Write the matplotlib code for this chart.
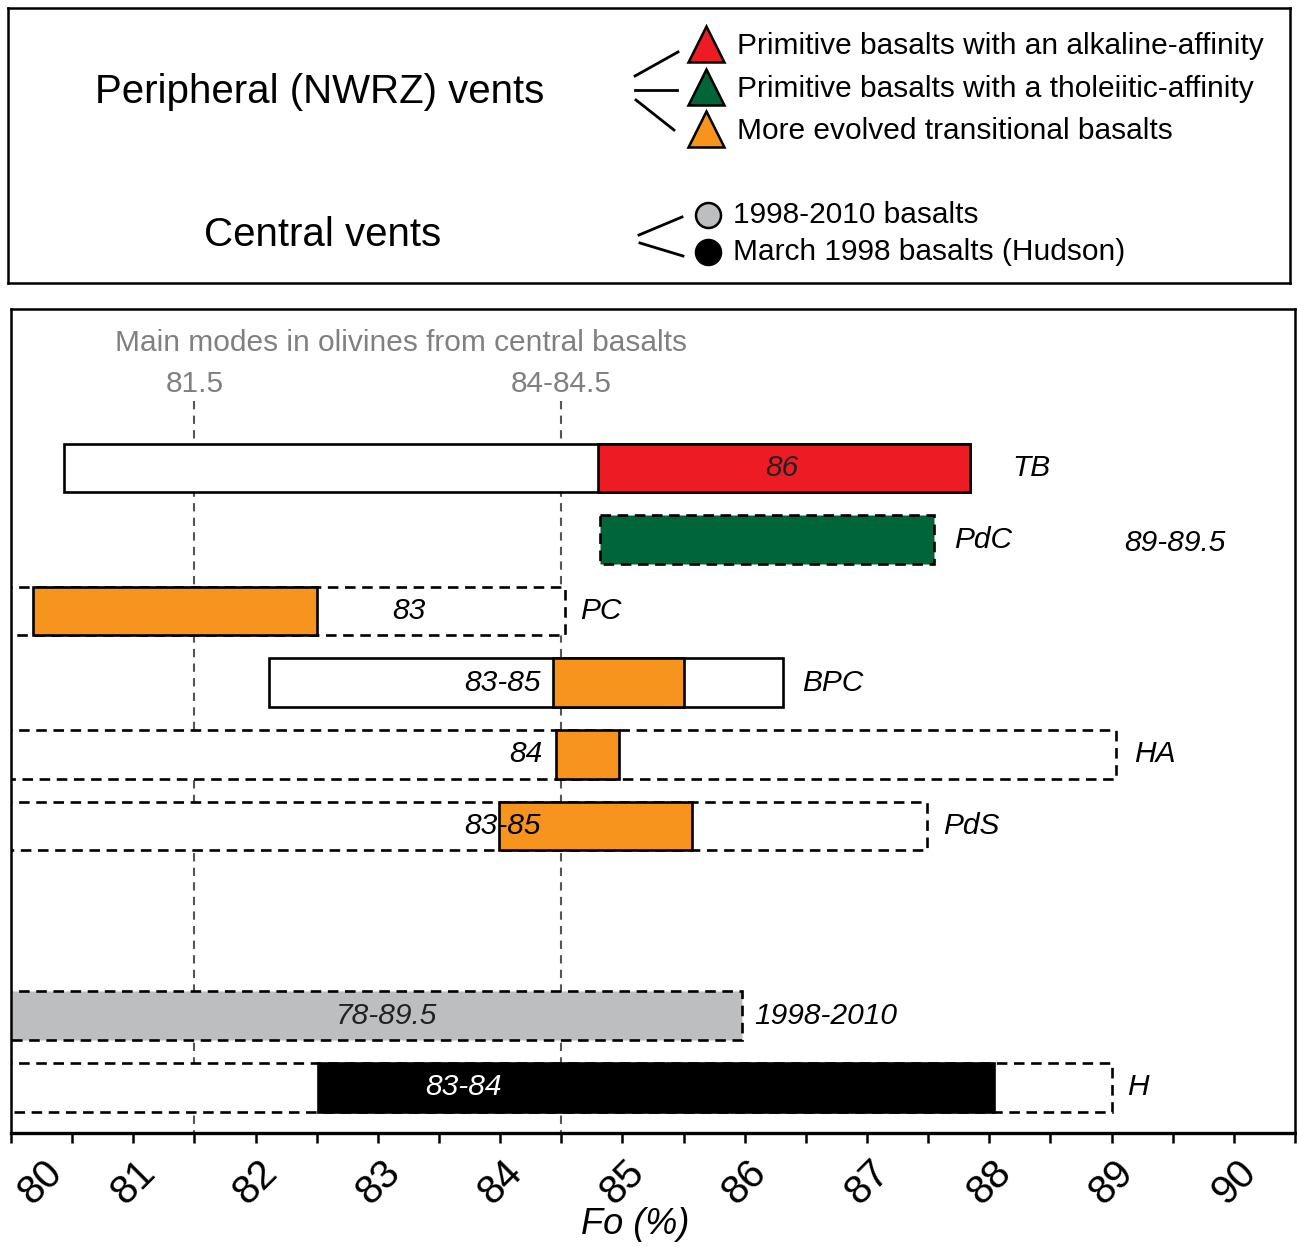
import matplotlib
matplotlib.use("Agg")
import matplotlib.pyplot as plt
from matplotlib.ticker import MultipleLocator

plt.rcParams['font.family'] = ['Liberation Sans', 'DejaVu Sans']

# Fo ranges (%) of olivines for each vent
vents = ['TB', 'PdC', 'PC', 'BPC', 'HA', 'PdS', '1998-2010', 'H']
fo_min = [80.43, 84.82, 79.5, 82.11, 79.5, 79.5, 79.5, 79.5]
fo_max = [87.84, 87.55, 84.53, 86.31, 89.04, 87.49, 85.98, 89.0]
# most frequent compositions (None = no separate mode bar)
mode_lo = [84.8, None, 80.18, 84.43, 84.46, 83.99, None, 82.51]
mode_hi = [87.84, None, 82.5, 85.5, 84.97, 85.57, None, 88.04]
mode_text = ['86', '89-89.5', '83', '83-85', '84', '83-85', '78-89.5', '83-84']
central_modes = [81.5, 84.5]
central_mode_text = ['81.5', '84-84.5']
fo_ticks = [80, 81, 82, 83, 84, 85, 86, 87, 88, 89, 90]

# styling per row
range_fill = ['white', '#00663a', 'white', 'white', 'white', 'white', '#bcbec0', 'white']
range_dashed = [False, True, True, False, True, True, True, True]
mode_fill = ['#ed1c24', None, '#f7941d', '#f7941d', '#f7941d', '#f7941d', None, 'black']
row_y = [0, 1, 2, 3, 4, 5, 7.65, 8.65]
name_pad = [0.35, 0.16, 0.12, 0.16, 0.14, 0.13, 0.10, 0.13]
text_x = [86.3, 89.1, 83.25, 84.33, 84.35, 84.33, 83.07, 83.7]
text_ha = ['center', 'left', 'center', 'right', 'right', 'right', 'center', 'center']
text_color = ['#222222', 'black', 'black', 'black', 'black', 'black', '#222222', 'white']

W, H = 1297, 1247
fig = plt.figure(figsize=(W / 100, H / 100), dpi=100)

# ---- legend panel (pixel coordinates) ----
lg = fig.add_axes([8 / W, (H - 283) / H, 1282 / W, 275 / H])
lg.set_xlim(8, 1290)
lg.set_ylim(283, 8)
lg.set_xticks([])
lg.set_yticks([])
for s in lg.spines.values():
    s.set_linewidth(1.8)

fs = 21.5
lg.text(320, 92, 'Peripheral (NWRZ) vents', fontsize=29, ha='center', va='center')
lg.text(323, 235, 'Central vents', fontsize=29, ha='center', va='center')

peripheral = [('Primitive basalts with an alkaline-affinity', '#ed1c24'),
              ('Primitive basalts with a tholeiitic-affinity', '#00663a'),
              ('More evolved transitional basalts', '#f7941d')]
central = [('1998-2010 basalts', '#bcbec0'),
           ('March 1998 basalts (Hudson)', 'black')]

fan_p = [((635, 76), (678, 52)), ((635, 90), (677, 90)), ((636, 100), (674, 130))]
for (a, b), (label, col), yy in zip(fan_p, peripheral, [44, 87, 129]):
    lg.plot([a[0], b[0]], [a[1], b[1]], color='black', lw=2)
    lg.plot(706, yy, marker='^', ms=26, mfc=col, mec='black', mew=1.8)
    lg.text(737, yy + 2, label, fontsize=fs, ha='left', va='center')

fan_c = [((639, 235), (682, 217)), ((640, 243), (683, 256))]
for (a, b), (label, col), yy in zip(fan_c, central, [215, 252]):
    lg.plot([a[0], b[0]], [a[1], b[1]], color='black', lw=2)
    lg.plot(708, yy, marker='o', ms=18, mfc=col, mec='black', mew=1.8)
    lg.text(733, yy, label, fontsize=fs, ha='left', va='center')

# ---- main panel ----
ax = fig.add_axes([11 / W, 114 / H, 1284 / W, 824 / H])
ax.set_xlim(80, 90.5)
ax.set_ylim(9.29, -2.22)
ax.set_yticks([])
for s in ax.spines.values():
    s.set_linewidth(1.8)
ax.spines['bottom'].set_linewidth(2.4)

dash = (0, (4.0, 2.5))
bh = 0.68
ew = 1.9

for xm, lab in zip(central_modes, central_mode_text):
    ax.plot([xm, xm], [-0.93, 9.29], color='#555555', lw=1.5, ls=(0, (4, 3)), zorder=1)
    ax.text(xm, -1.17, lab, color='#808080', fontsize=fs, ha='center', va='center')
ax.text(83.19, -1.75, 'Main modes in olivines from central basalts', color='#808080',
        fontsize=fs, ha='center', va='center')

for i, v in enumerate(vents):
    y = row_y[i]
    ax.barh(y, fo_max[i] - fo_min[i], left=fo_min[i], height=bh,
            color=range_fill[i], edgecolor='black', lw=ew,
            linestyle=dash if range_dashed[i] else '-', zorder=2)
    if mode_lo[i] is not None:
        ax.barh(y, mode_hi[i] - mode_lo[i], left=mode_lo[i], height=bh,
                color=mode_fill[i], edgecolor='black', lw=ew, zorder=3)
    ax.text(fo_max[i] + name_pad[i], y, v, fontsize=fs, style='italic',
            ha='left', va='center', zorder=5)
    ty = y + 0.05 if i == 1 else y
    ax.text(text_x[i], ty, mode_text[i], fontsize=fs, style='italic',
            ha=text_ha[i], va='center', color=text_color[i], zorder=5)

ax.set_xticks(fo_ticks)
ax.set_xticklabels([str(t) for t in fo_ticks])
ax.xaxis.set_minor_locator(MultipleLocator(0.5))
ax.tick_params(axis='x', which='both', direction='out', length=7.5, width=1.8,
               labelsize=29, pad=7, labelrotation=45)
# keep the first label inside the figure edge
ax.get_xticklabels()[0].set_horizontalalignment('left')
ax.set_xlabel('Fo (%)', fontsize=26, style='italic')
ax.xaxis.set_label_coords((635 - 11) / 1284, -0.09)

fig.savefig('out.png', dpi=100)
